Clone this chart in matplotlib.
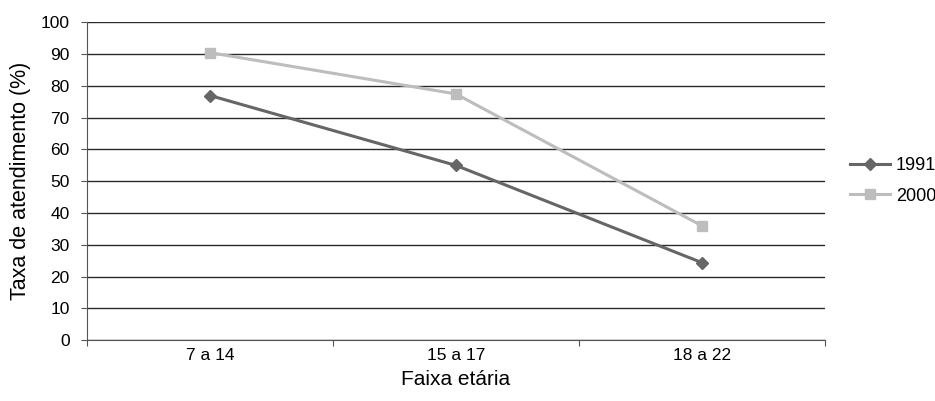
import matplotlib.pyplot as plt

plt.rcParams['font.family'] = ['Liberation Sans', 'DejaVu Sans']

faixas = ['7 a 14', '15 a 17', '18 a 22']
taxa_1991 = [77.0, 55.0, 24.4]
taxa_2000 = [90.5, 77.5, 36.0]

fig = plt.figure(figsize=(9.35, 4.01), dpi=100)
ax = fig.add_axes([0.093, 0.152, 0.789, 0.792])

x = [i + 0.5 for i in range(len(faixas))]

ax.plot(x, taxa_1991, color='#666666', lw=2.2, marker='D', ms=6.5,
        label='1991', zorder=3)
ax.plot(x, taxa_2000, color='#bdbdbd', lw=2.2, marker='s', ms=7,
        label='2000', zorder=3)

ax.set_xlim(0, len(faixas))
ax.set_ylim(0, 100)
ax.set_yticks(range(0, 101, 10))
ax.yaxis.grid(True, color='#2a2a2a', lw=1.0)
ax.set_axisbelow(True)

# category labels sit between the boundary ticks
ax.set_xticks(range(len(faixas) + 1))
ax.set_xticklabels([])
ax.set_xticks(x, minor=True)
ax.set_xticklabels(faixas, minor=True)
ax.tick_params(axis='x', which='minor', length=0, pad=6, labelsize=12.5)
ax.tick_params(axis='x', which='major', length=4, color='#555555')
ax.tick_params(axis='y', length=4.5, color='#555555', labelsize=12.5, pad=8)

for side in ['top', 'right']:
    ax.spines[side].set_visible(False)
for side in ['left', 'bottom']:
    ax.spines[side].set_color('#555555')

ax.set_ylabel('Taxa de atendimento (%)', fontsize=15.5)
ax.yaxis.set_label_coords(-0.076, 0.5)
ax.set_xlabel('Faixa etária', fontsize=15, va='top')
ax.xaxis.set_label_coords(0.5, -0.095)

fig.legend(loc='center left', bbox_to_anchor=(850 / 935, 1 - 181 / 401),
           frameon=False, fontsize=13, handlelength=2.2, handletextpad=0.35,
           labelspacing=0.75, borderpad=0, borderaxespad=0)

fig.savefig('out.png', dpi=100)
